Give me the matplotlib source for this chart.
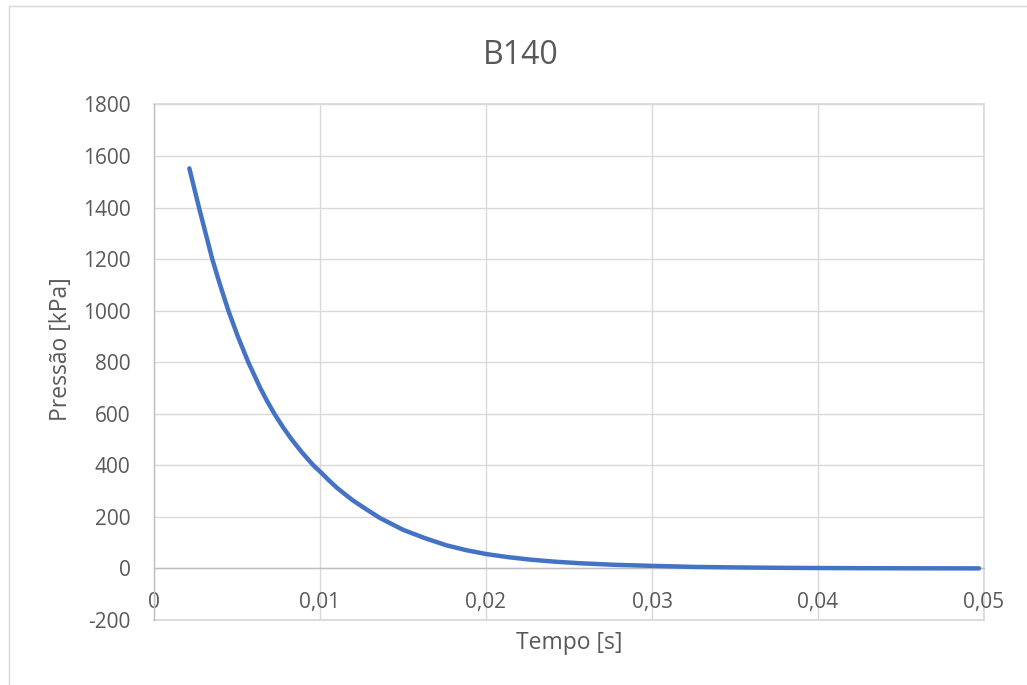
import matplotlib
matplotlib.use("Agg")
import matplotlib.pyplot as plt
from matplotlib.patches import Rectangle
from matplotlib.ticker import FuncFormatter, MultipleLocator

# Pressure decay, series B140
tempo_s = [0.00213, 0.00271, 0.00311, 0.00351, 0.00398, 0.00448, 0.00505,
           0.00568, 0.00640, 0.00680, 0.00725, 0.00780, 0.00830, 0.00890,
           0.00960, 0.01000, 0.01050, 0.01100, 0.01150, 0.01200, 0.01280,
           0.01360, 0.01430, 0.01500, 0.01630, 0.01760, 0.01880, 0.02000,
           0.02130, 0.02270, 0.02420, 0.02570, 0.02780, 0.03000, 0.03250,
           0.03500, 0.03750, 0.04000, 0.04250, 0.04500, 0.04750, 0.04970]
pressao_kpa = [1552, 1400, 1300, 1200, 1100, 1000, 900,
               800, 700, 651, 600, 545, 500, 451,
               400, 376, 344, 314, 288, 263, 229,
               196, 173, 150, 118, 90, 71, 56,
               44, 34, 26, 20, 14, 10, 6,
               4, 2.5, 1.6, 1.0, 0.6, 0.4, 0.2]

titulo = "B140"
rotulo_x = "Tempo [s]"
rotulo_y = "Pressão [kPa]"
y_ticks = list(range(-200, 1801, 200))

TEXT = "#595959"
GRID = "#D9D9D9"
AXIS = "#BFBFBF"
LINE = "#4472C4"

plt.rcParams["font.family"] = ["Open Sans", "DejaVu Sans"]

W, H = 1027, 685
fig = plt.figure(figsize=(W / 100, H / 100), dpi=100)
fig.patch.set_facecolor("white")

# chart frame
fig.patches.append(Rectangle((9 / W, -0.05), 1.2, 1 - 6 / H + 0.05,
                             transform=fig.transFigure, fill=False,
                             edgecolor=GRID, linewidth=1.0))

x0, x1 = 154, 984
y_top, y_bot = 104.4, 620.0
ax = fig.add_axes([x0 / W, (H - y_bot) / H, (x1 - x0) / W, (y_bot - y_top) / H])

ax.plot(tempo_s, pressao_kpa, color=LINE, linewidth=3.2,
        solid_capstyle="round", solid_joinstyle="round", zorder=3)

ax.set_xlim(0, 0.05)
ax.set_ylim(-200, 1800)
ax.xaxis.set_major_locator(MultipleLocator(0.01))
ax.set_yticks(y_ticks)

ax.xaxis.set_major_formatter(FuncFormatter(
    lambda v, p: "0" if abs(v) < 1e-12 else f"{v:.2f}".replace(".", ",")))
ax.yaxis.set_major_formatter(FuncFormatter(lambda v, p: f"{int(v)}"))

ax.grid(True, color=GRID, linewidth=1.0, zorder=0)
ax.set_axisbelow(True)
# gridlines on the outer edges of the plot area
ax.axhline(y_ticks[0], color=GRID, linewidth=1.3, clip_on=False, zorder=0.5)
ax.axhline(y_ticks[-1], color=GRID, linewidth=1.3, clip_on=False, zorder=0.5)
ax.axvline(0.05, color=GRID, linewidth=1.3, clip_on=False, zorder=0.5)

for s in ("top", "right"):
    ax.spines[s].set_visible(False)
ax.spines["left"].set_color(AXIS)
ax.spines["left"].set_linewidth(1.0)
ax.spines["bottom"].set_position(("data", 0))
ax.spines["bottom"].set_color(AXIS)
ax.spines["bottom"].set_linewidth(1.0)

ax.tick_params(axis="both", length=0, labelsize=15, labelcolor=TEXT)
ax.tick_params(axis="y", pad=17)
ax.tick_params(axis="x", pad=17)

fig.text(521 / W, 1 - 55 / H, titulo, ha="center", va="center",
         fontsize=23, color=TEXT)
fig.text(569 / W, 1 - 643 / H, rotulo_x, ha="center", va="center",
         fontsize=16.5, color=TEXT)
fig.text(61 / W, 1 - 349 / H, rotulo_y, ha="center", va="center",
         rotation=90, fontsize=16.5, color=TEXT)

fig.savefig("out.png", dpi=100)
